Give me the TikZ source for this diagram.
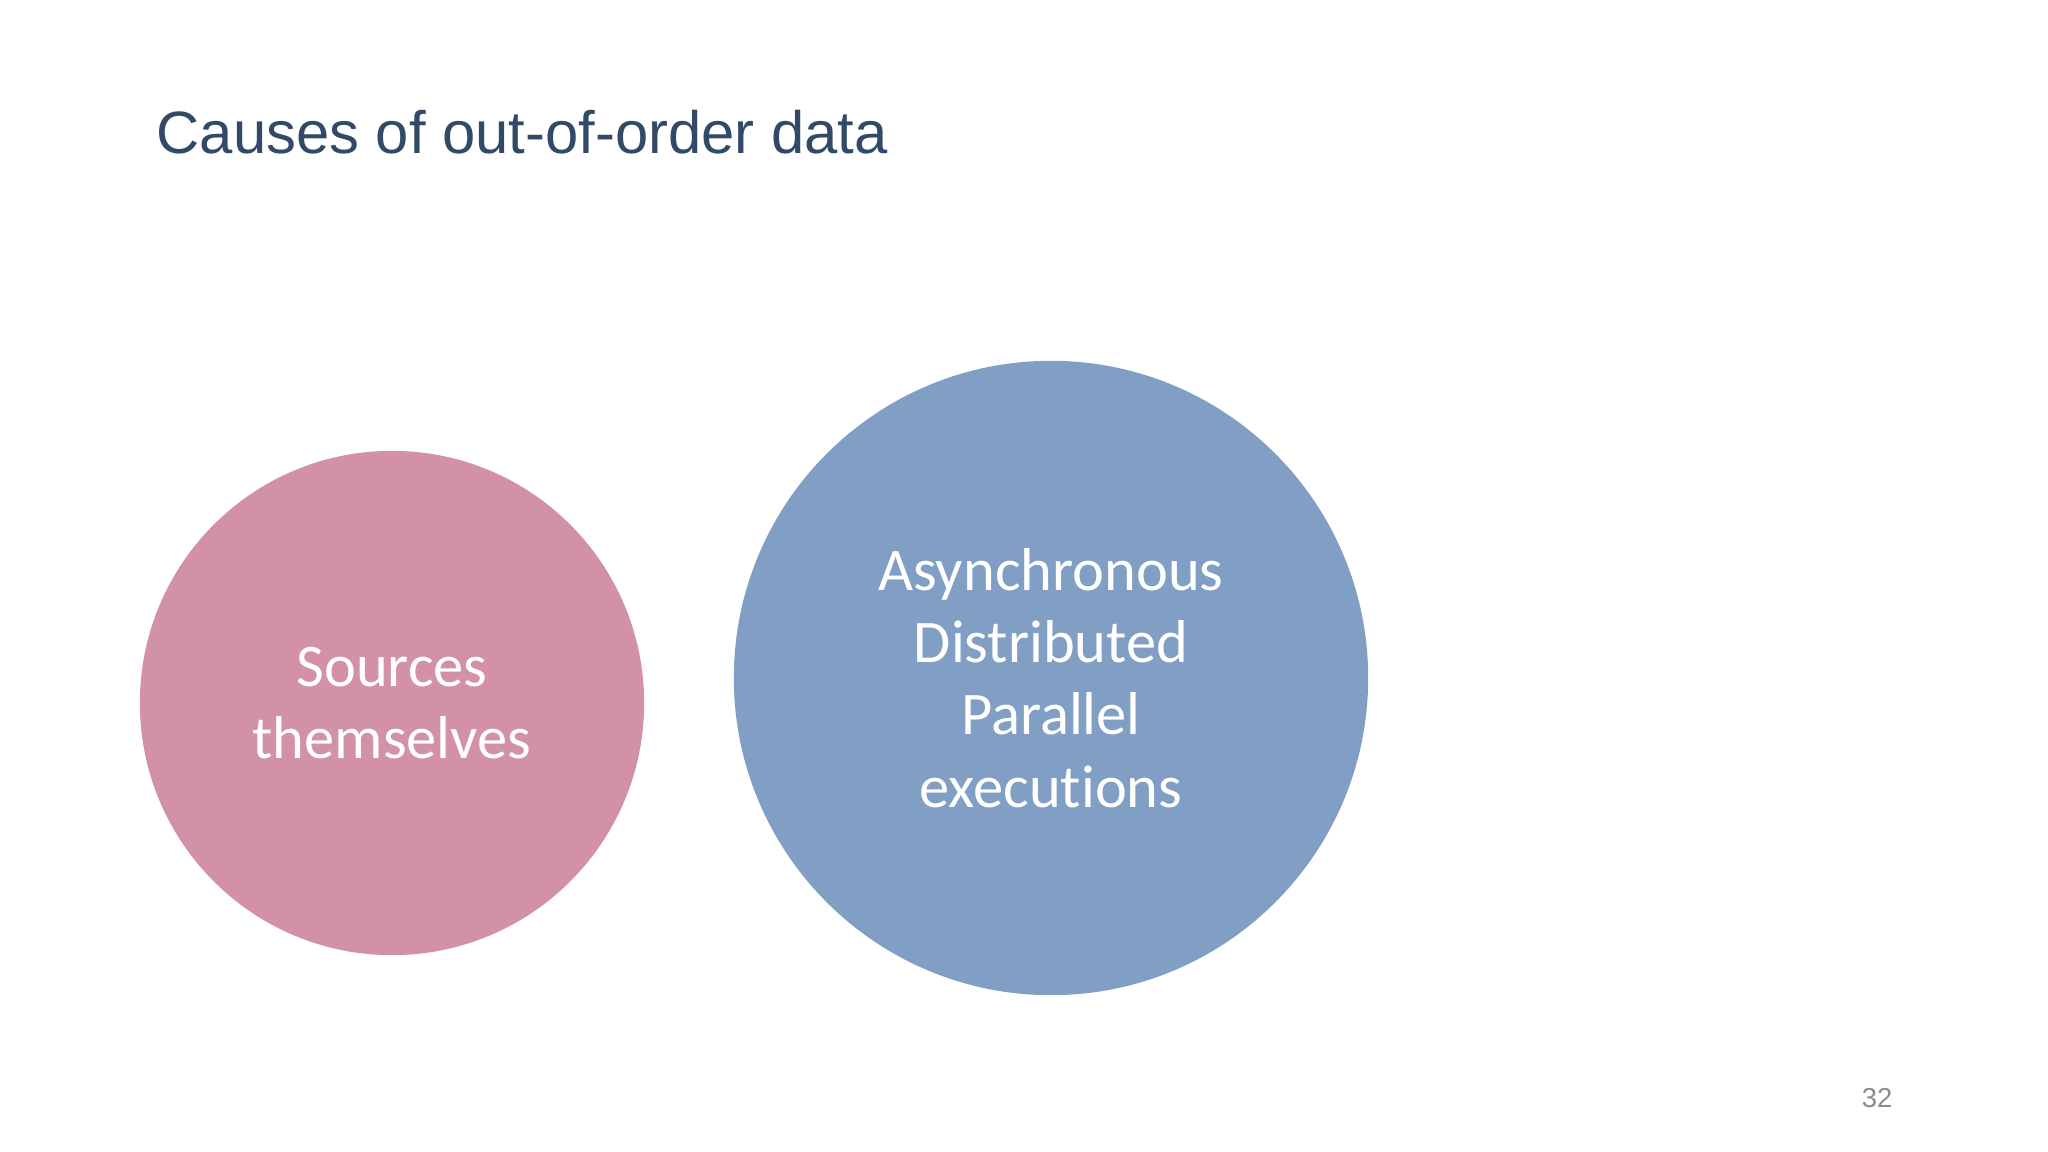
\documentclass[tikz,border=0pt]{standalone}
\usepackage{fontspec}
\setmainfont{Liberation Sans}
\newfontfamily\calfont[RawFeature={-liga}]{Carlito}
\usepackage{tikz}
\usetikzlibrary{positioning}
\usepackage{xcolor}
\definecolor{titleblue}{RGB}{50, 74, 104}
\definecolor{causeA}{RGB}{210, 145, 168}
\definecolor{causeB}{RGB}{129, 159, 197}
\definecolor{pagegray}{RGB}{140, 140, 140}

\begin{document}
\begin{tikzpicture}[x=0.01cm, y=-0.01cm,
  cause/.style={circle, draw=none, text=white, align=center,
    font=\calfont\fontsize{17.2}{20.6}\selectfont, inner sep=0pt}]
  \fill[white] (0,0) rectangle (2048,1152);
  \useasboundingbox (0,0) rectangle (2048,1152);

  % title
  \node[anchor=base west, inner sep=0pt, text=titleblue,
        font=\fontsize{17}{20}\selectfont] (title) at (156,154)
        {Causes of out-of-order data};

  % the two causes
  \node[cause, fill=causeA, minimum size=5.04cm] (sources) at (392,703)
        {Sources\\themselves};
  \node[cause, fill=causeB, minimum size=6.34cm] (async) at (1051,678)
        {Asynchronous\\Distributed\\Parallel\\executions};

  \node[text=pagegray, font=\fontsize{7.8}{9}\selectfont] (pagenum) at (1877,1098) {32};
\end{tikzpicture}
\end{document}
